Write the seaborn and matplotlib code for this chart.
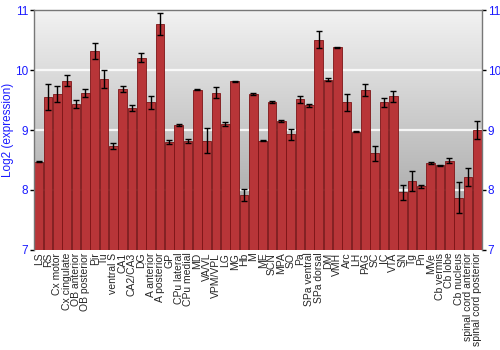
import numpy as np
import pandas as pd
import matplotlib
matplotlib.use("Agg")
import matplotlib.pyplot as plt
import seaborn as sns
from matplotlib.colors import LinearSegmentedColormap

regions = ["LS", "RS", "Cx motor", "Cx cingulate", "OB anterior", "OB posterior",
           "Pir", "Tu", "ventral S", "CA1", "CA2/CA3", "DG", "A anterior",
           "A posterior", "GP", "CPu lateral", "CPu medial", "MD", "VA/VL",
           "VPM/VPL", "LG", "MG", "Hb", "M", "ME", "SCN", "MPA", "SO", "Pa",
           "SPa ventral", "SPa dorsal", "DM", "VMH", "Arc", "LH", "PAG", "SC",
           "IC", "VTA", "SN", "Tg", "Pn", "MVe", "Cb vermis", "Cb lobe",
           "Cb nucleus", "spinal cord anterior", "spinal cord posterior"]
expression = [8.47, 9.55, 9.60, 9.82, 9.43, 9.62, 10.32, 9.85, 8.74, 9.69,
              9.36, 10.21, 9.46, 10.77, 8.80, 9.08, 8.82, 9.67, 8.82, 9.62,
              9.10, 9.81, 7.92, 9.60, 8.82, 9.47, 9.15, 8.93, 9.51, 9.41,
              10.51, 9.84, 10.38, 9.46, 8.97, 9.67, 8.61, 9.46, 9.56, 7.96,
              8.15, 8.06, 8.45, 8.41, 8.49, 7.87, 8.22, 9.00]
error = [0.01, 0.22, 0.14, 0.09, 0.07, 0.07, 0.13, 0.15, 0.05, 0.05,
         0.05, 0.075, 0.11, 0.18, 0.04, 0.02, 0.03, 0.01, 0.21, 0.09,
         0.04, 0.01, 0.10, 0.02, 0.01, 0.02, 0.02, 0.09, 0.055, 0.02,
         0.14, 0.02, 0.01, 0.14, 0.01, 0.10, 0.125, 0.08, 0.095, 0.125,
         0.16, 0.02, 0.02, 0.01, 0.04, 0.26, 0.15, 0.15]
yticks = [7, 8, 9, 10, 11]

df = pd.DataFrame({"region": regions, "expr": expression, "err": error})

sns.set_style("white")
plt.rcParams['font.family'] = ['Liberation Sans', 'DejaVu Sans']

fig = plt.figure(figsize=(5, 3.5), dpi=100)
ax = fig.add_axes([0.068, 0.286, 0.896, 0.685])

# background gradient
grad = np.linspace(0, 1, 256).reshape(-1, 1)
cmap = LinearSegmentedColormap.from_list("bg", ["#f2f2f2", "#9c9c9c"])
ax.imshow(grad, aspect="auto", cmap=cmap, extent=[0, 1, 0, 1],
          transform=ax.transAxes, zorder=0)

for yv in [8, 9, 10]:
    ax.axhline(yv, color="white", lw=1.6, alpha=0.85, zorder=1)

sns.barplot(data=df, x="region", y="expr", color="#b83538", width=0.9,
            saturation=1, edgecolor="#7d1416", linewidth=0.6, ax=ax, zorder=2)
for p in ax.patches:
    p.set_zorder(2)
ax.errorbar(np.arange(len(regions)), expression, yerr=error, fmt="none",
            ecolor="black", elinewidth=1, capsize=2.5, capthick=1, zorder=3)

ax.set_ylim(7, 11)
ax.set_xlim(-0.5, len(regions) - 0.5)
ax.set_yticks(yticks)
ax.set_yticklabels([str(v) for v in yticks])
ax.set_xlabel("")
ax.set_ylabel("Log2 (expression)", color="#1a1aff", fontsize=8.5, labelpad=1)
ax.tick_params(axis="y", colors="black", labelcolor="#1a1aff", labelsize=8.5,
               direction="out", length=3, width=1, left=True, right=True,
               labelleft=True, labelright=True, pad=1)
ax.tick_params(axis="x", length=0, pad=2, labelsize=7.5, rotation=90)
for lbl in ax.get_xticklabels():
    lbl.set_rotation(90)
    lbl.set_va("top")
for s in ["top", "left", "right"]:
    ax.spines[s].set_color("#777777")
    ax.spines[s].set_linewidth(1)
ax.spines["bottom"].set_visible(False)

fig.savefig("out.png", dpi=100)
